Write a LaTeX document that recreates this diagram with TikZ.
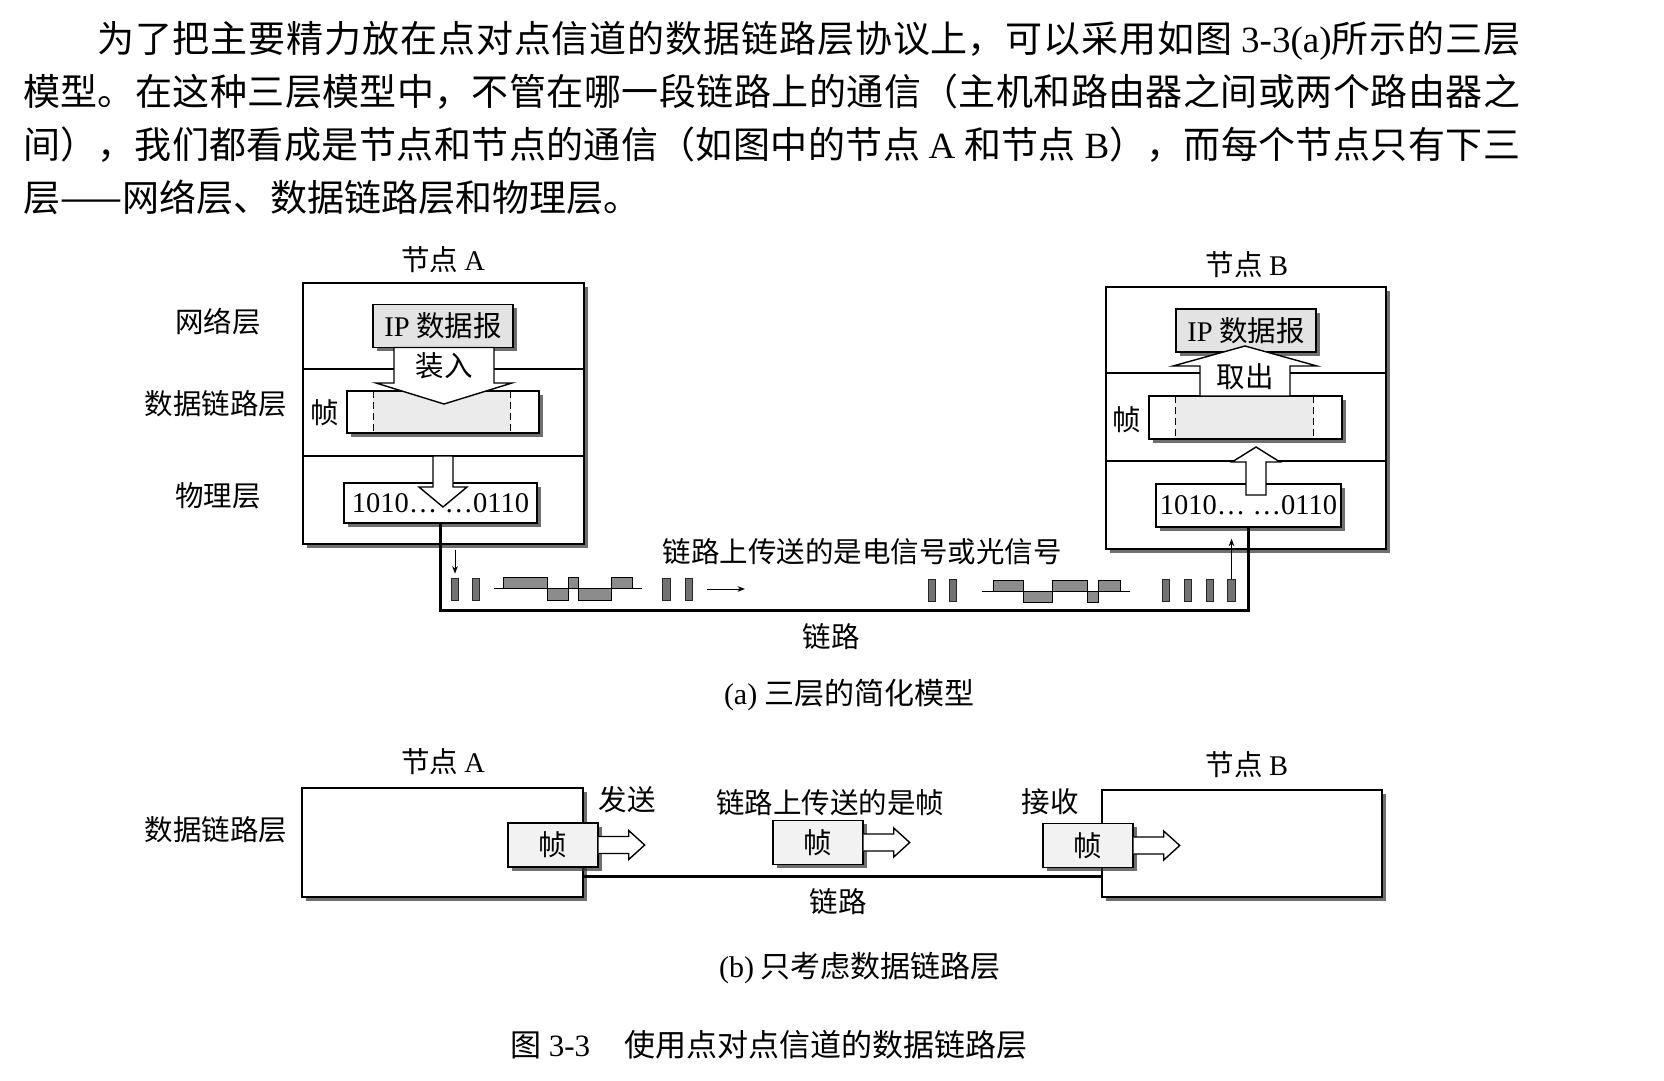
\documentclass[tikz,border=0pt]{standalone}
\usepackage{fontspec}
\setmainfont{Noto Sans CJK SC}
\newfontfamily\lat{Liberation Serif}
\XeTeXlinebreaklocale "zh"
\XeTeXlinebreakskip=0pt plus 6pt minus 1pt
\usepackage{tikz}
\usetikzlibrary{arrows.meta, positioning, calc, shadows}

\begin{document}
\begin{tikzpicture}[
		x=1pt, y=-1pt,
		>=Stealth,
		lbl/.style={inner sep=0pt, font=\fontsize{28.5pt}{32pt}\selectfont},
		captxt/.style={inner sep=0pt, font=\fontsize{30pt}{34pt}\selectfont},
		shd/.style={drop shadow={shadow xshift=3.5pt, shadow yshift=-3.5pt, fill=black!80, opacity=.7}},
		box/.style={draw, line width=1.4pt, fill=white, shd, inner sep=0pt},
		ipbox/.style={box, fill=gray!22, font=\fontsize{28.5pt}{32pt}\selectfont},
		bits/.style={box, font=\lat\fontsize{28.5pt}{32pt}\selectfont},
		frm/.style={box, fill=gray!10, minimum width=90pt, minimum height=44pt, font=\fontsize{28.5pt}{32pt}\selectfont},
		dfrm/.style={box, minimum height=42pt, path picture={
			\fill[gray!16] ([xshift=26pt]path picture bounding box.north west) rectangle ([xshift=-28.5pt]path picture bounding box.south east);
			\draw[dash pattern=on 7pt off 4pt, line width=1pt]
				([xshift=26pt]path picture bounding box.north west) -- ([xshift=26pt]path picture bounding box.south west)
				([xshift=-28.5pt]path picture bounding box.north east) -- ([xshift=-28.5pt]path picture bounding box.south east);}},
		layer/.style={line width=1.4pt},
		bigarr/.style={draw, line width=1.4pt, fill=white, line join=miter},
		hollow/.style={draw, line width=1.4pt, fill=white},
		link/.style={line width=3pt},
		pulse/.style={draw=black!85, fill=black!55, line width=.8pt, minimum width=7.5pt, minimum height=22pt, inner sep=0pt},
		wave/.style={draw, line width=1pt, fill=black!45},
		sig/.style={->, line width=1pt}
	]
		\fill[white] (0,0) rectangle (1664,1080);
		\useasboundingbox (0,0) rectangle (1664,1080);

		% ===== INTRO TEXT =====
		\node[anchor=north west, inner sep=0pt, text width=1497pt, align=justify,
			  font=\fontsize{37pt}{53pt}\selectfont] (intro) at (23,21)
			{\hspace*{2em}为了把主要精力放在点对点信道的数据链路层协议上，可以采用如图 {\lat 3-3(a)}所示的三层\linebreak
			 模型。在这种三层模型中，不管在哪一段链路上的通信（主机和路由器之间或两个路由器之\linebreak
			 间），我们都看成是节点和节点的通信（如图中的节点 {\lat A} 和节点 {\lat B}），而每个节点只有下三\linebreak
			 层——网络层、数据链路层和物理层。};

		% ===== (a) THREE-LAYER MODEL =====
		\node[lbl] (titleA) at (443,260) {节点 {\lat A}};
		\node[lbl] (titleB) at (1247,265) {节点 {\lat B}};

		% Layer names
		\node[lbl] (netA) at (218,322) {网络层};
		\node[lbl] (dllA) at (216,404) {数据链路层};
		\node[lbl] (phyA) at (218,496) {物理层};

		% Node A
		\node[box, minimum width=281pt, minimum height=261pt] (nodeA) at (443.5,413.5) {};
		\coordinate (layA1) at (0,369);
		\coordinate (layA2) at (0,456);
		\draw[layer] (nodeA.west |- layA1) -- (nodeA.east |- layA1);
		\draw[layer] (nodeA.west |- layA2) -- (nodeA.east |- layA2);

		\node[ipbox, minimum width=140pt, minimum height=43pt] (ipA) at (443,326) {{\lat IP} 数据报};
		\node[dfrm, minimum width=192pt] (frmA) at (443,412) {};
		\node[lbl] (zhenA) at (325,413) {帧};
		\node[bits, minimum width=193pt, minimum height=40pt] (bitA) at (440.5,503) {1010\dots\ \dots0110};

		% Encapsulate / pass down
		\draw[bigarr] (394,347.5) -- (394,383) -- (376,383) -- (444,404) -- (512,383) -- (494,383) -- (494,347.5) -- cycle;
		\node[lbl] (loadA) at (444,366) {装入};
		\draw[bigarr] (433,456) -- (433,487) -- (419,487) -- (443,507) -- (467,487) -- (453,487) -- (453,456) -- cycle;

		% Node B
		\node[box, minimum width=280pt, minimum height=262pt] (nodeB) at (1246,418) {};
		\coordinate (layB1) at (0,373);
		\coordinate (layB2) at (0,461);
		\draw[layer] (nodeB.west |- layB1) -- (nodeB.east |- layB1);
		\draw[layer] (nodeB.west |- layB2) -- (nodeB.east |- layB2);

		\node[ipbox, minimum width=140pt, minimum height=43pt] (ipB) at (1246,330.5) {{\lat IP} 数据报};
		\node[dfrm, minimum width=193pt, minimum height=43pt] (frmB) at (1245.5,417.5) {};
		\node[lbl] (zhenB) at (1127,420) {帧};
		\node[bits, minimum width=185pt, minimum height=43pt] (bitB) at (1248.5,505.5) {1010\dots\ \dots0110};

		% Pass up / extract
		\draw[bigarr] (1246,495) -- (1246,462) -- (1232,462) -- (1256,447) -- (1280,462) -- (1266,462) -- (1266,495) -- cycle;
		\draw[bigarr] (1200,396) -- (1200,366) -- (1173,366) -- (1245,346) -- (1317,366) -- (1290,366) -- (1290,396) -- cycle;
		\node[lbl] (takeB) at (1245,377) {取出};

		% Physical link
		\coordinate (linkY) at (0,610);
		\draw[link] (bitA.south) -- (bitA.south |- linkY) -| (bitB.south);
		\node[lbl] (sigTxt) at (862,552) {链路上传送的是电信号或光信号};
		\node[lbl] (linkA) at (831,637) {链路};

		% Signals on the link
		\node[pulse] (p1) at (455,589) {};
		\node[pulse] (p2) at (476,589) {};
		\node[pulse] (p3) at (666.5,589) {};
		\node[pulse] (p4) at (689,589) {};
		\node[pulse] (q1) at (932,590) {};
		\node[pulse] (q2) at (953,590) {};
		\node[pulse] (q3) at (1166,590) {};
		\node[pulse] (q4) at (1188,590) {};
		\node[pulse] (q5) at (1210,590) {};
		\node[pulse] (q6) at (1231.5,590) {};

		\draw[line width=1pt] (494,588) -- (642,588);
		\draw[wave] (503,577) rectangle (547,588);
		\draw[wave] (568,577) rectangle (578,588);
		\draw[wave] (611,577) rectangle (632,588);
		\draw[wave] (547,588) rectangle (568,600);
		\draw[wave] (578,588) rectangle (611,600);

		\draw[line width=1pt] (982,591) -- (1130,591);
		\draw[wave] (993,580) rectangle (1023,591);
		\draw[wave] (1052,580) rectangle (1087,591);
		\draw[wave] (1098,580) rectangle (1120,591);
		\draw[wave] (1023,591) rectangle (1052,602);
		\draw[wave] (1087,591) rectangle (1098,602);

		\coordinate (dirS) at (707,589);
		\coordinate (dirE) at (745,589);
		\draw[sig] (dirS) -- (dirE);
		\draw[sig] ($(p1.north |- nodeA.south)+(0,5)$) -- ($(p1.north)+(0,-4)$);
		\draw[sig] (q6.north) -- ($(q6.north |- bitB.south)+(0,11)$);

		\node[captxt] (capA) at (849,695) {{\lat (a)} 三层的简化模型};

		% ===== (b) DATA LINK LAYER ONLY =====
		\node[lbl] (titleAb) at (443,762) {节点 {\lat A}};
		\node[lbl] (titleBb) at (1247,765) {节点 {\lat B}};
		\node[lbl] (dllB) at (216,830) {数据链路层};

		\node[box, minimum width=281pt, minimum height=109pt] (nodeAb) at (442.5,842.5) {};
		\node[box, minimum width=280pt, minimum height=107pt] (nodeBb) at (1242,843.5) {};

		\coordinate (linkYb) at (0,876);
		\draw[link] (nodeAb.east |- linkYb) -- (nodeBb.west |- linkYb);
		\node[lbl] (linkB) at (838,902) {链路};

		\node[frm] (frAb) at (553,845) {帧};
		\node[frm] (frMid) at (818,842.5) {帧};
		\node[frm] (frBb) at (1088,845.5) {帧};

		\draw[hollow] ([yshift=8.5pt]frAb.east) -- ++(30,0) -- ++(0,-6) -- ++(16,14.5) -- ++(-16,14.5) -- ++(0,-6) -- ++(-30,0);
		\draw[hollow] ([yshift=8.5pt]frMid.east) -- ++(30,0) -- ++(0,-6) -- ++(16,14.5) -- ++(-16,14.5) -- ++(0,-6) -- ++(-30,0);
		\draw[hollow] ([yshift=8.5pt]frBb.east) -- ++(30,0) -- ++(0,-6) -- ++(16,14.5) -- ++(-16,14.5) -- ++(0,-6) -- ++(-30,0);

		\node[lbl] (sendA) at (627,800) {发送};
		\node[lbl] (frTxt) at (830,803) {链路上传送的是帧};
		\node[lbl] (recvB) at (1050,802) {接收};

		\node[captxt] (capB) at (860,968) {{\lat (b)} 只考虑数据链路层};

		% Figure caption
		\node[captxt, font=\fontsize{31pt}{34pt}\selectfont] (figCap) at (769,1045) {图 {\lat 3-3}\hspace{1.1em}使用点对点信道的数据链路层};
	\end{tikzpicture}
\end{document}
